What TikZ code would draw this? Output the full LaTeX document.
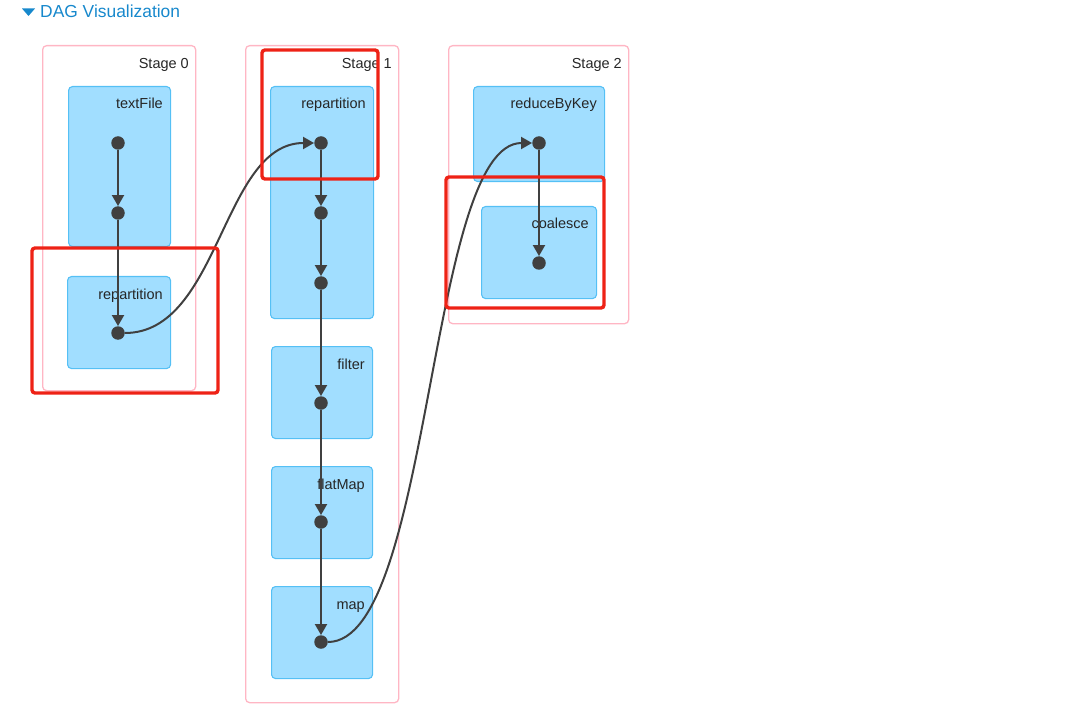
\documentclass[tikz,border=0pt]{standalone}
\usepackage{fontspec}
\setmainfont{Liberation Sans}
\usetikzlibrary{arrows.meta}
\definecolor{opblue}{RGB}{161,222,255}
\definecolor{opedge}{RGB}{85,192,245}
\definecolor{stagepink}{RGB}{255,182,196}
\definecolor{hilite}{RGB}{238,34,22}
\definecolor{ink}{RGB}{64,64,64}
\definecolor{link}{RGB}{23,136,204}
\tikzset{
  >={Triangle[length=11pt,width=12pt]},
  stage/.style={draw=stagepink,line width=1.3pt,rounded corners=4pt,anchor=north west,inner sep=0pt},
  opbox/.style={draw=opedge,fill=opblue,line width=1.1pt,rounded corners=4pt,anchor=north west,inner sep=0pt},
  tag/.style={font=\fontsize{14.5}{16}\selectfont,text=black!85,anchor=base east,inner sep=0pt},
  rdd/.style={circle,fill=ink,inner sep=0pt,minimum size=13.5pt},
  dep/.style={->,draw=ink,line width=2pt},
  mark box/.style={draw=hilite,line width=3.4pt,rounded corners=3pt},
}
\begin{document}
\begin{tikzpicture}[x=1pt,y=-1pt]
  \useasboundingbox (0,0) rectangle (1073,711);
  % header
  \fill[link] (22,8.5) -- (35,8.5) -- (28.5,16) -- cycle;
  \node[font=\fontsize{17.4}{20}\selectfont,text=link,anchor=base west,inner sep=0pt] (title) at (40,18) {DAG Visualization};
  % stages
  \foreach \s/\x/\w/\h in {0/42/153/345,1/245/153/657,2/448/180/278}{
    \node[stage,minimum width=\w pt,minimum height=\h pt] (stage\s) at (\x,45) {};
    \node[tag] at (\x+\w-6,69) {Stage \s};
  }
  % operations
  \foreach \n/\x/\y/\w/\h/\t in {textfile/68/86/102/160/textFile,rep0/67/276/103/92/repartition,
      rep1/270/86/103/232/repartition,filter/271/346/101/92/filter,flatmap/271/466/101/92/flatMap,
      map/271/586/101/92/map,reduce/473/86/131/95/reduceByKey,coalesce/481/206/115/92/coalesce}{
    \node[opbox,minimum width=\w pt,minimum height=\h pt] (\n) at (\x,\y) {};
    \node[tag] at (\x+\w-7,\y+23) {\t};
  }
  % rdds
  \foreach \n/\x/\y in {a/118/143,b/118/213,c/118/333,d/321/143,e/321/213,f/321/283,
      g/321/403,h/321/522,i/321/642,j/539/143,k/539/263}
    \node[rdd] (\n) at (\x,\y) {};
  \foreach \u/\v in {a/b,b/c,d/e,e/f,f/g,g/h,h/i,j/k}
    \draw[dep] (\u) -- (\v);
  \draw[dep] (c) .. controls (220,333) and (222,143) .. (d);
  \draw[dep] (i) .. controls (432,642) and (428,143) .. (j);
  % highlights
  \draw[mark box] (32,248) rectangle (218,393);
  \draw[mark box] (262,50) rectangle (378,179);
  \draw[mark box] (446,177) rectangle (604,308);
\end{tikzpicture}
\end{document}
